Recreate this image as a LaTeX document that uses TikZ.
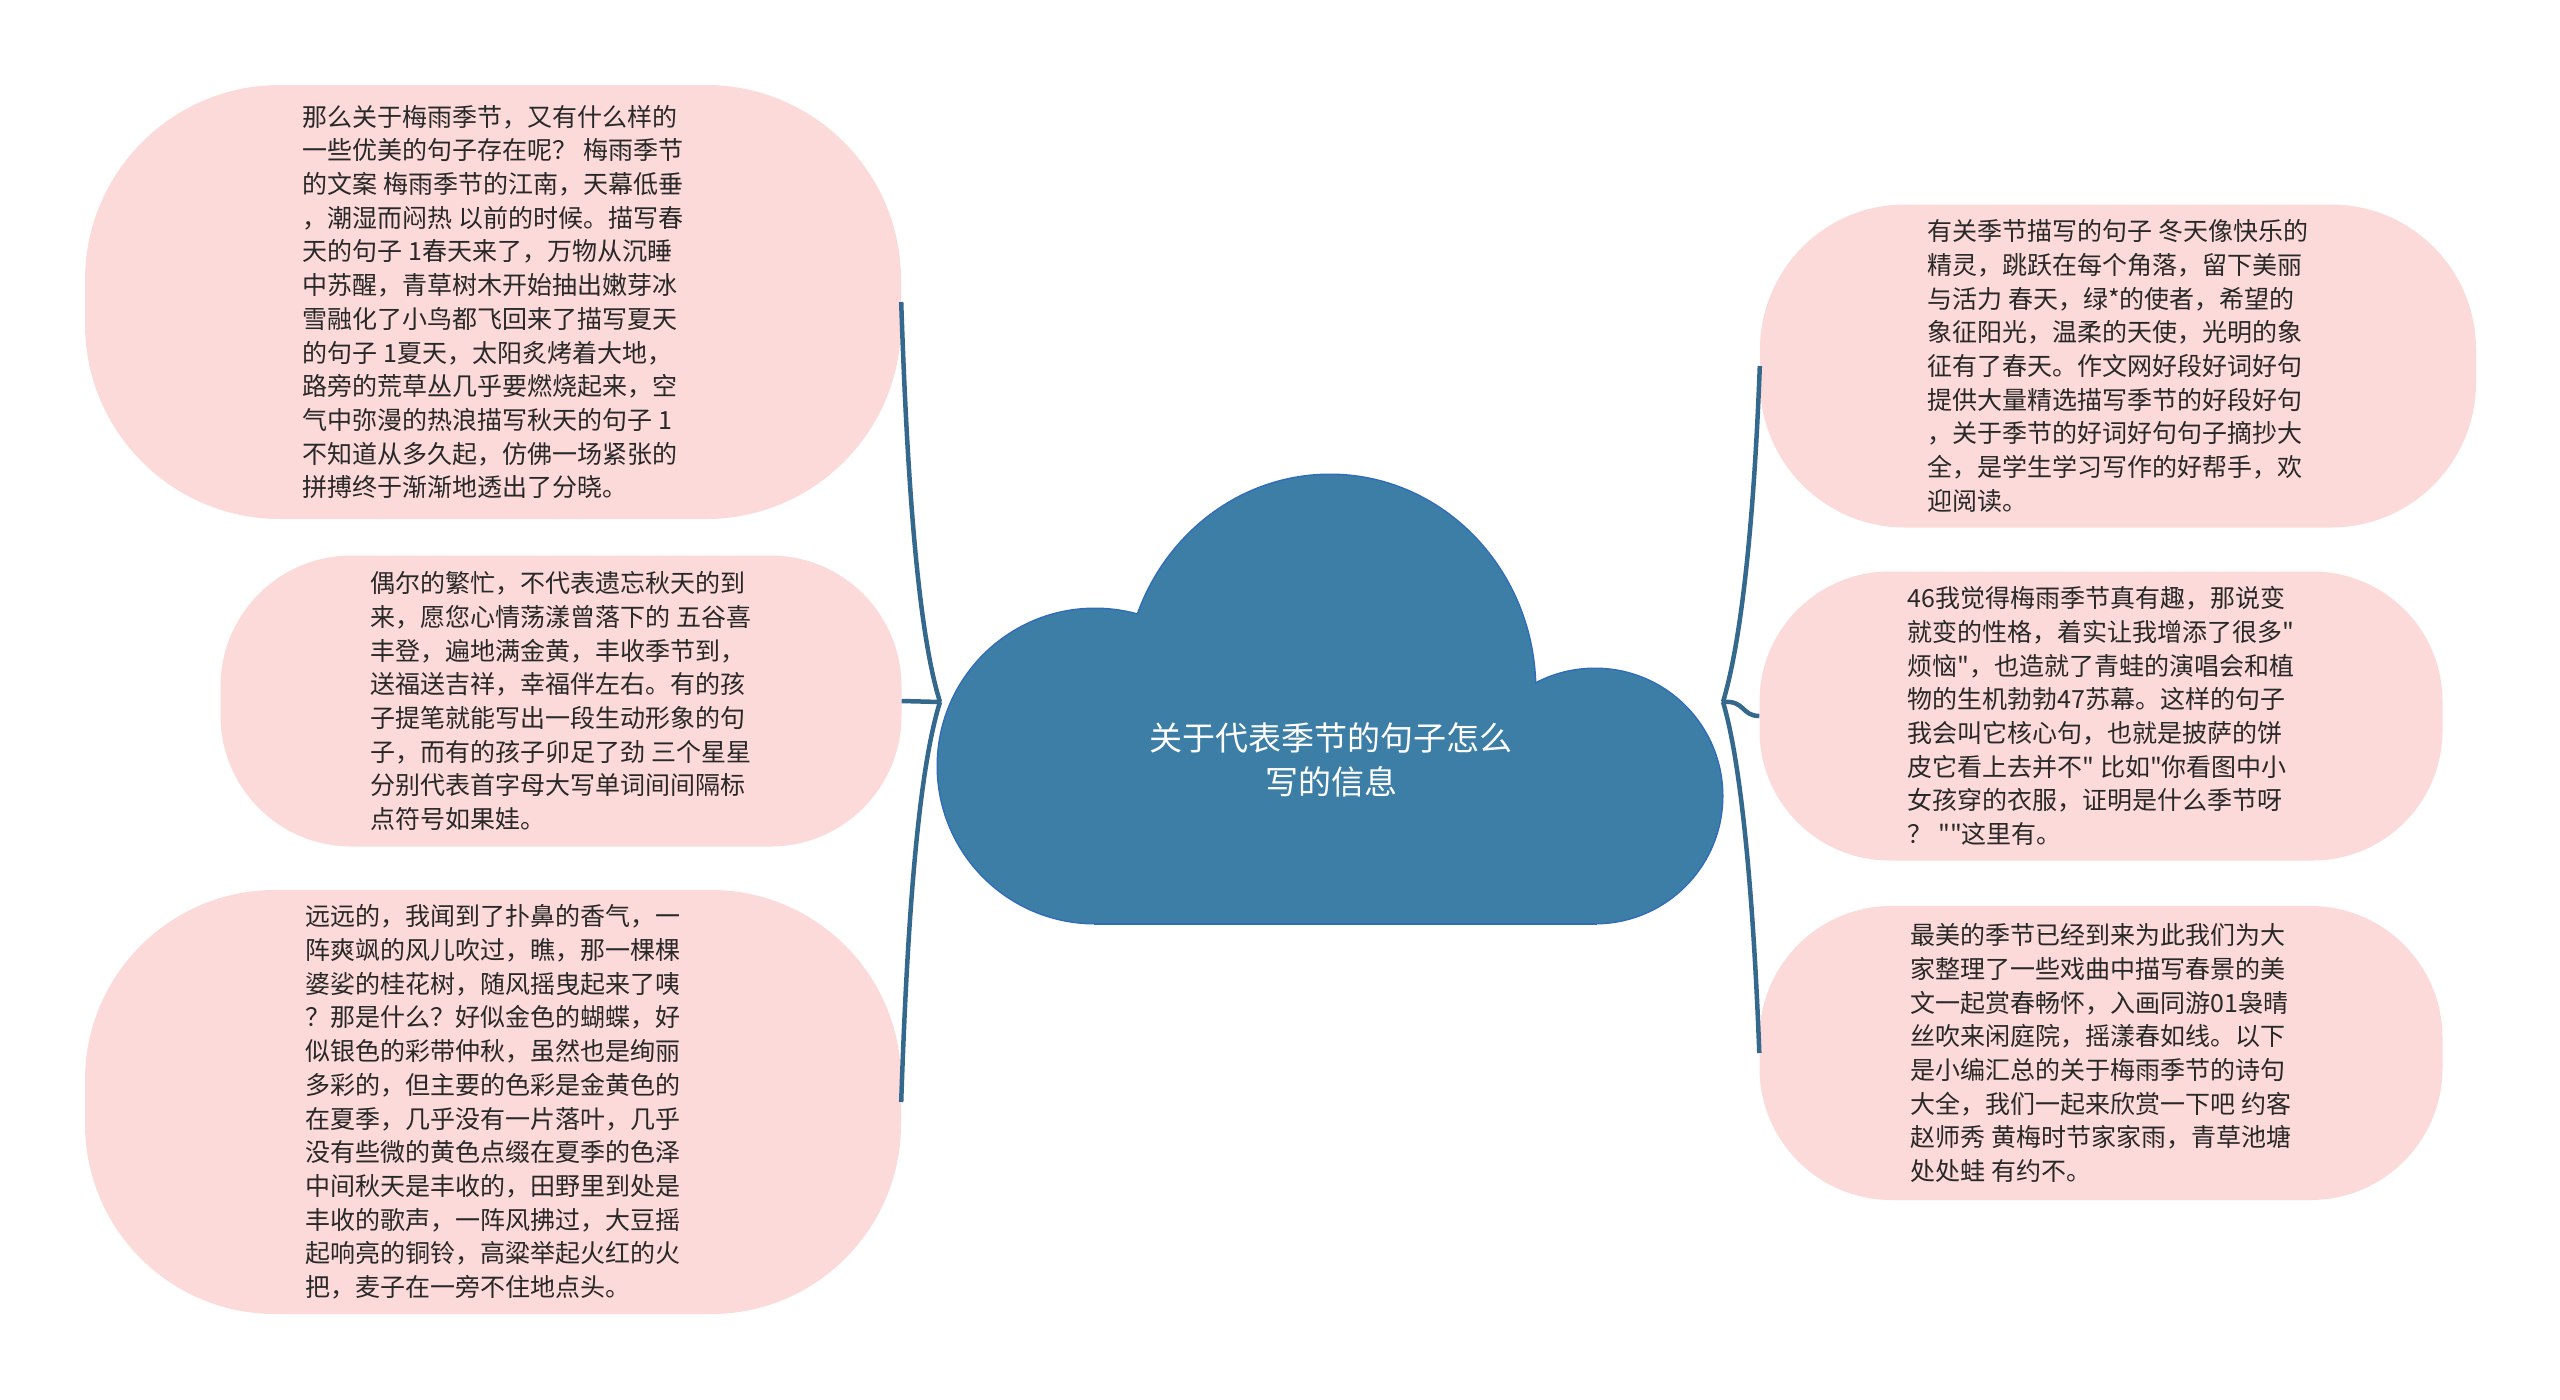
\documentclass[tikz,border=0pt]{standalone}
\usepackage{fontspec}
\newfontfamily\cjk{Noto Sans CJK SC}

\definecolor{bubblepink}{RGB}{252,218,218}
\definecolor{cloudblue}{RGB}{61,126,166}
\definecolor{cloudedge}{RGB}{48,108,186}
\definecolor{linkblue}{RGB}{52,104,140}
\definecolor{textgray}{RGB}{40,40,40}

\tikzset{
  bubble/.style={fill=bubblepink, rounded corners=#1, align=left, inner sep=0pt,
    text=textgray, font=\cjk\fontsize{25}{33.7}\selectfont},
  title/.style={align=center, text=white, font=\cjk\fontsize{33}{44}\selectfont},
  cloudline/.style={draw=cloudedge, line width=3pt},
  cloudfill/.style={fill=cloudblue},
  link/.style={draw=linkblue, line width=4.5pt}
}

\begin{document}
\begin{tikzpicture}[x=1pt, y=-1pt]

	\useasboundingbox[fill=white] (0,0) rectangle (2560,1400);

	% Cloud: border first, fill on top
	\path[cloudline] (1095,766) circle[radius=157];
	\path[cloudline] (1330,690) ellipse[x radius=205, y radius=215];
	\path[cloudline] (1595,796) circle[radius=127];
	\path[cloudline] (1095,766) rectangle (1595,923);
	\fill[cloudfill] (1095,766) circle[radius=157];
	\fill[cloudfill] (1330,690) ellipse[x radius=205, y radius=215];
	\fill[cloudfill] (1595,796) circle[radius=127];
	\fill[cloudfill] (1095,766) rectangle (1595,923);

	\node[title] (root) at (1331,760) {关于代表季节的句子怎么\\写的信息};

	\coordinate (lhub) at (940,702);
	\coordinate (rhub) at (1723,702);

	% Left bubbles
	\node[bubble=195pt, minimum width=816pt, minimum height=434pt] (l1) at (493,302) {%
		那么关于梅雨季节，又有什么样的\\
		一些优美的句子存在呢？ 梅雨季节\\
		的文案 梅雨季节的江南，天幕低垂\\
		，潮湿而闷热 以前的时候。描写春\\
		天的句子 1春天来了，万物从沉睡\\
		中苏醒，青草树木开始抽出嫩芽冰\\
		雪融化了小鸟都飞回来了描写夏天\\
		的句子 1夏天，太阳炙烤着大地，\\
		路旁的荒草丛几乎要燃烧起来，空\\
		气中弥漫的热浪描写秋天的句子 1\\
		不知道从多久起，仿佛一场紧张的\\
		拼搏终于渐渐地透出了分晓。};

	\node[bubble=131pt, minimum width=681pt, minimum height=291pt] (l2) at (561,701) {%
		偶尔的繁忙，不代表遗忘秋天的到\\
		来，愿您心情荡漾曾落下的 五谷喜\\
		丰登，遍地满金黄，丰收季节到，\\
		送福送吉祥，幸福伴左右。有的孩\\
		子提笔就能写出一段生动形象的句\\
		子，而有的孩子卯足了劲 三个星星\\
		分别代表首字母大写单词间间隔标\\
		点符号如果娃。};

	\node[bubble=190pt, minimum width=816pt, minimum height=424pt] (l3) at (493,1102) {%
		远远的，我闻到了扑鼻的香气，一\\
		阵爽飒的风儿吹过，瞧，那一棵棵\\
		婆娑的桂花树，随风摇曳起来了咦\\
		？那是什么？好似金色的蝴蝶，好\\
		似银色的彩带仲秋，虽然也是绚丽\\
		多彩的，但主要的色彩是金黄色的\\
		在夏季，几乎没有一片落叶，几乎\\
		没有些微的黄色点缀在夏季的色泽\\
		中间秋天是丰收的，田野里到处是\\
		丰收的歌声，一阵风拂过，大豆摇\\
		起响亮的铜铃，高粱举起火红的火\\
		把，麦子在一旁不住地点头。};

	% Right bubbles
	\node[bubble=145pt, minimum width=716pt, minimum height=323pt] (r1) at (2118,366) {%
		有关季节描写的句子 冬天像快乐的\\
		精灵，跳跃在每个角落，留下美丽\\
		与活力 春天，绿*的使者，希望的\\
		象征阳光，温柔的天使，光明的象\\
		征有了春天。作文网好段好词好句\\
		提供大量精选描写季节的好段好句\\
		，关于季节的好词好句句子摘抄大\\
		全，是学生学习写作的好帮手，欢\\
		迎阅读。};

	\node[bubble=130pt, minimum width=683pt, minimum height=289pt] (r2) at (2101,716) {%
		46我觉得梅雨季节真有趣，那说变\\
		就变的性格，着实让我增添了很多"\\
		烦恼"，也造就了青蛙的演唱会和植\\
		物的生机勃勃47苏幕。这样的句子\\
		我会叫它核心句，也就是披萨的饼\\
		皮它看上去并不" 比如"你看图中小\\
		女孩穿的衣服，证明是什么季节呀\\
		？ ""这里有。};

	\node[bubble=132pt, minimum width=683pt, minimum height=294pt] (r3) at (2101,1053) {%
		最美的季节已经到来为此我们为大\\
		家整理了一些戏曲中描写春景的美\\
		文一起赏春畅怀，入画同游01袅晴\\
		丝吹来闲庭院，摇漾春如线。以下\\
		是小编汇总的关于梅雨季节的诗句\\
		大全，我们一起来欣赏一下吧 约客\\
		赵师秀 黄梅时节家家雨，青草池塘\\
		处处蛙 有约不。};

	% Connectors
	\draw[link] (lhub) .. controls +(-22,-70) and +(6,180) .. (l1.east);
	\draw[link] (lhub) -- (l2.east);
	\draw[link] (lhub) .. controls +(-22,70) and +(6,-180) .. (l3.east);

	\draw[link] (rhub) .. controls +(18,-60) and +(-6,160) .. (r1.west);
	\draw[link] (rhub) .. controls +(22,-2) and +(-18,0) .. (r2.west);
	\draw[link] (rhub) .. controls +(18,60) and +(-6,-160) .. (r3.west);

\end{tikzpicture}
\end{document}
